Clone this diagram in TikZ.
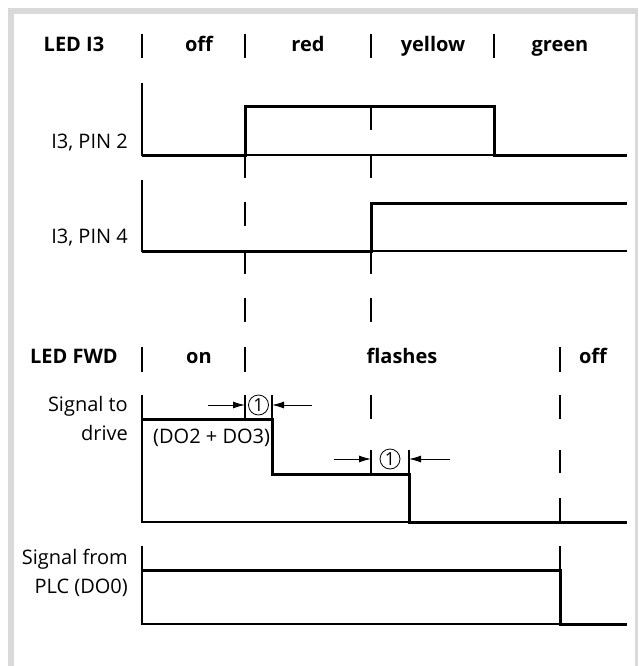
\documentclass[tikz,border=0pt]{standalone}
\usepackage{fontspec}
\setmainfont{Open Sans}
\usetikzlibrary{arrows.meta,positioning}
\definecolor{framegray}{HTML}{D9D9D9}

\begin{document}
\begin{tikzpicture}[x=1pt,y=-1pt,
    sig/.style={line width=3pt,line join=miter},
    axis/.style={line width=1.1pt},
    tick/.style={line width=1.1pt},
    head/.style={font=\fontsize{20}{24}\selectfont\bfseries,anchor=base,inner sep=0pt},
    lbl/.style={font=\fontsize{20}{29}\selectfont,align=right,anchor=base east,inner sep=0pt},
    num/.style={draw,circle,inner sep=0pt,minimum size=20pt,line width=0.8pt,font=\fontsize{18}{18}\selectfont},
    dim/.style={line width=1pt,-{Latex[length=12pt,width=7pt]}}]
  \useasboundingbox (0,0) rectangle (639,666);
  % page frame
  \fill[framegray] (8,8) rectangle (638,666);
  \fill[white] (14,14) rectangle (635,666);
  % header rows
  \foreach \x in {142,245,371,494} \draw[tick] (\x,34) -- (\x,58);
  \foreach \x in {142,245,560} \draw[tick] (\x,347) -- (\x,372);
  \node[head] (ledi) at (74,52) {LED I3};
  \node[head] (ioff) at (199,52) {off};
  \node[head] (ired) at (308,52) {red};
  \node[head] (iyel) at (433,52) {yellow};
  \node[head] (igrn) at (560,52) {green};
  \node[head] (ledf) at (74,363) {LED FWD};
  \node[head] (fon) at (199,363) {on};
  \node[head] (ffl) at (402,363) {flashes};
  \node[head] (foff) at (593,363) {off};
  % dashed time marks
  \foreach \x/\a/\b in {245/155/178,245/202/226,245/250/274,245/298/322,245/395/419,
      371/106/130,371/154/178,371/250/274,371/298/322,371/395/419,371/450/473,
      560/395/419,560/450/473,560/498/522,560/546/570,272/395/419,409/450/473}
    \draw[tick] (\x,\a) -- (\x,\b);
  % axes
  \draw[axis] (142,83) -- (142,155) -- (627,155);
  \draw[axis] (142,180) -- (142,251) -- (627,251);
  \draw[axis] (142,395) -- (142,522) -- (627,522);
  \draw[axis] (142,546) -- (142,624) -- (627,624);
  % signals
  \draw[sig] (142,155) -- (245,155) -- (245,107) -- (494,107) -- (494,155) -- (627,155);
  \draw[sig] (142,251) -- (371,251) -- (371,203) -- (627,203);
  \draw[sig] (142,419) -- (272,419) -- (272,474) -- (409,474) -- (409,522) -- (627,522);
  \draw[sig] (142,570) -- (560,570) -- (560,624) -- (627,624);
  % signal names
  \node[lbl] (pin2) at (128,148) {I3, PIN 2};
  \node[lbl] (pin4) at (128,243) {I3, PIN 4};
  \node[lbl] (drv) at (128,440) {Signal to\\drive};
  \node[lbl] (plc) at (128,593) {Signal from\\PLC (DO0)};
  \node[font=\fontsize{20}{24}\selectfont,anchor=base west,inner sep=0pt] (dosum) at (153,443) {(DO2 + DO3)};
  % delay marks
  \node[num] (d1) at (258.5,405) {1};
  \node[num] (d2) at (390,459) {1};
  \coordinate (d1l) at (208,405);
  \coordinate (d1r) at (312,405);
  \coordinate (d2l) at (334,459);
  \coordinate (d2r) at (450,459);
  \draw[dim] (d1l) -- (245,405);
  \draw[dim] (d1r) -- (272,405);
  \draw[dim] (d2l) -- (371,459);
  \draw[dim] (d2r) -- (409,459);
\end{tikzpicture}
\end{document}
